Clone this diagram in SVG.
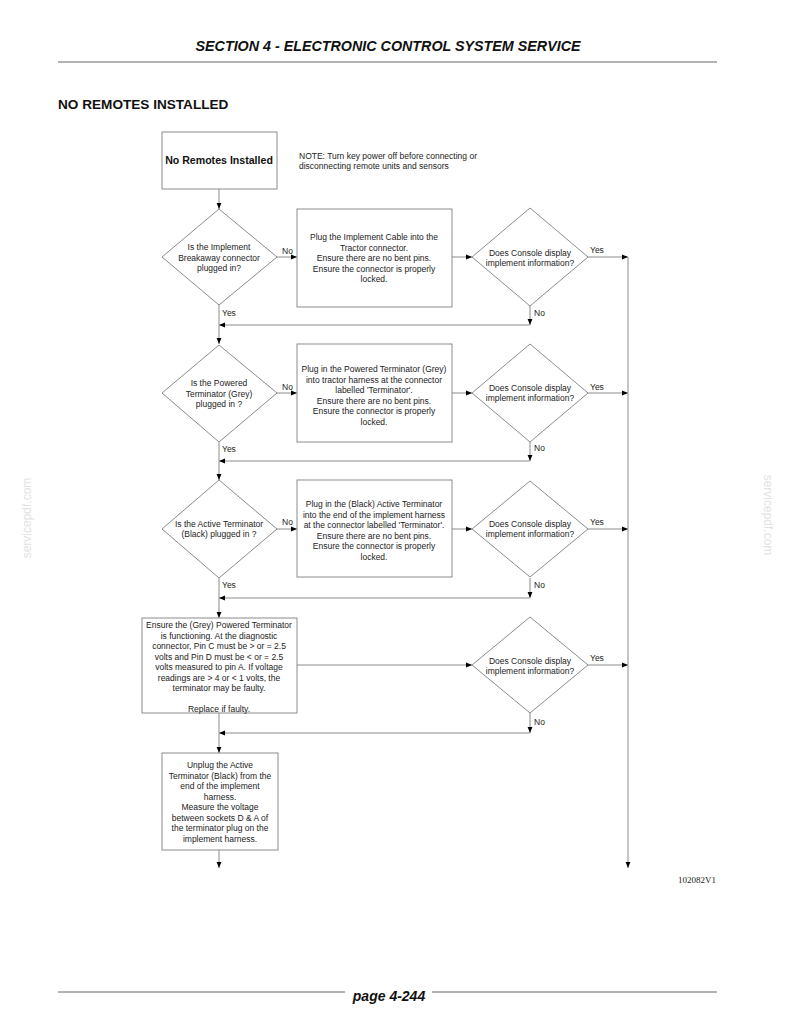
<svg xmlns="http://www.w3.org/2000/svg" width="794" height="1028" viewBox="0 0 794 1028">
<style>
  .t{font-family:"Liberation Sans",Arial,sans-serif;font-size:8.5px;fill:#222;text-anchor:middle}
  .l{font-family:"Liberation Sans",Arial,sans-serif;font-size:8.5px;fill:#222}
  .shape{fill:#fff;stroke:#8c8c8c;stroke-width:1}
  .c{fill:none;stroke:#8c8c8c;stroke-width:1;marker-end:url(#ah)}
  .wm{font-family:"Liberation Sans",Arial,sans-serif;font-size:12px;fill:#e2e2e2;text-anchor:middle}
</style>
<defs>
  <marker id="ah" viewBox="0 0 10 10" refX="10" refY="5" markerWidth="6" markerHeight="6" orient="auto" markerUnits="userSpaceOnUse">
    <path d="M0,1 L10,5 L0,9 z" fill="#000"/>
  </marker>
</defs>
<rect width="794" height="1028" fill="#fff"/>

<!-- header -->
<text x="388" y="51" font-family="Liberation Sans, Arial, sans-serif" font-size="14.3" font-weight="bold" font-style="italic" text-anchor="middle" fill="#111">SECTION 4 - ELECTRONIC CONTROL SYSTEM SERVICE</text>
<line x1="58" y1="62" x2="717" y2="62" stroke="#666" stroke-width="1"/>
<text x="58" y="109" font-family="Liberation Sans, Arial, sans-serif" font-size="13.6" font-weight="bold" fill="#111">NO REMOTES INSTALLED</text>

<!-- watermarks -->
<text class="wm" transform="translate(31,518) rotate(-90)">servicepdf.com</text>
<text class="wm" transform="translate(764,515) rotate(90)">servicepdf.com</text>

<!-- connectors -->
<g id="connectors">
  <line class="c" x1="219" y1="189" x2="219" y2="209"/>
  <line class="c" x1="277" y1="257" x2="297" y2="257"/>
  <line class="c" x1="452" y1="257" x2="472" y2="257"/>
  <line class="c" x1="588" y1="257" x2="628" y2="257"/>
  <line class="c" x1="530" y1="306" x2="530" y2="325"/>
  <line class="c" x1="530" y1="325" x2="219" y2="325"/>
  <line class="c" x1="219" y1="305" x2="219" y2="344"/>

  <line class="c" x1="277" y1="393" x2="297" y2="393"/>
  <line class="c" x1="452" y1="393" x2="472" y2="393"/>
  <line class="c" x1="588" y1="393" x2="628" y2="393"/>
  <line class="c" x1="530" y1="442" x2="530" y2="461"/>
  <line class="c" x1="530" y1="461" x2="219" y2="461"/>
  <line class="c" x1="219" y1="442" x2="219" y2="480"/>

  <line class="c" x1="277" y1="529" x2="297" y2="529"/>
  <line class="c" x1="452" y1="529" x2="472" y2="529"/>
  <line class="c" x1="588" y1="529" x2="628" y2="529"/>
  <line class="c" x1="530" y1="578" x2="530" y2="598"/>
  <line class="c" x1="530" y1="598" x2="219" y2="598"/>
  <line class="c" x1="219" y1="578" x2="219" y2="618"/>

  <line class="c" x1="297" y1="665" x2="472" y2="665"/>
  <line class="c" x1="588" y1="665" x2="628" y2="665"/>
  <line class="c" x1="530" y1="713" x2="530" y2="733"/>
  <line class="c" x1="530" y1="733" x2="219" y2="733"/>
  <line class="c" x1="219" y1="713" x2="219" y2="753"/>

  <line class="c" x1="219" y1="850" x2="219" y2="868"/>
  <line class="c" x1="628" y1="257" x2="628" y2="868"/>
</g>

<!-- connector labels -->
<g id="labels">
  <text class="l" x="282" y="254">No</text>
  <text class="l" x="222" y="316">Yes</text>
  <text class="l" x="590" y="253">Yes</text>
  <text class="l" x="534" y="316">No</text>

  <text class="l" x="282" y="390">No</text>
  <text class="l" x="222" y="452">Yes</text>
  <text class="l" x="590" y="390">Yes</text>
  <text class="l" x="534" y="451">No</text>

  <text class="l" x="282" y="525">No</text>
  <text class="l" x="222" y="588">Yes</text>
  <text class="l" x="590" y="525">Yes</text>
  <text class="l" x="534" y="588">No</text>

  <text class="l" x="590" y="661">Yes</text>
  <text class="l" x="534" y="725">No</text>
</g>

<!-- nodes -->
<g id="start">
  <rect class="shape" x="162" y="132" width="115" height="57"/>
  <text x="219" y="164" font-family="Liberation Sans, Arial, sans-serif" font-size="10.6" font-weight="bold" text-anchor="middle" fill="#111">No Remotes Installed</text>
</g>
<g id="note">
  <text class="l" x="299" y="159">NOTE: Turn key power off before connecting or</text>
  <text class="l" x="299" y="169">disconnecting remote units and sensors</text>
</g>

<g id="q1">
  <polygon class="shape" points="219,209 277,257 219,305 162,257"/>
  <text class="t" x="219" y="250">Is the Implement</text>
  <text class="t" x="219" y="260.5">Breakaway connector</text>
  <text class="t" x="219" y="271">plugged in?</text>
</g>
<g id="a1">
  <rect class="shape" x="297" y="209" width="155" height="98"/>
  <text class="t" x="374" y="240">Plug the Implement Cable into the</text>
  <text class="t" x="374" y="250.5">Tractor connector.</text>
  <text class="t" x="374" y="261">Ensure there are no bent pins.</text>
  <text class="t" x="374" y="271.5">Ensure the connector is properly</text>
  <text class="t" x="374" y="282">locked.</text>
</g>
<g id="c1">
  <polygon class="shape" points="530,208 588,257 530,306 472,257"/>
  <text class="t" x="530" y="256">Does Console display</text>
  <text class="t" x="530" y="266">implement information?</text>
</g>

<g id="q2">
  <polygon class="shape" points="219,345 277,393 219,442 162,393"/>
  <text class="t" x="219" y="386">Is the Powered</text>
  <text class="t" x="219" y="396.5">Terminator (Grey)</text>
  <text class="t" x="219" y="407">plugged in ?</text>
</g>
<g id="a2">
  <rect class="shape" x="297" y="344" width="155" height="98"/>
  <text class="t" x="374" y="372">Plug in the Powered Terminator (Grey)</text>
  <text class="t" x="374" y="382.5">into tractor harness at the connector</text>
  <text class="t" x="374" y="393">labelled 'Terminator'.</text>
  <text class="t" x="374" y="403.5">Ensure there are no bent pins.</text>
  <text class="t" x="374" y="414">Ensure the connector is properly</text>
  <text class="t" x="374" y="424.5">locked.</text>
</g>
<g id="c2">
  <polygon class="shape" points="530,344 588,393 530,442 472,393"/>
  <text class="t" x="530" y="391">Does Console display</text>
  <text class="t" x="530" y="401">implement information?</text>
</g>

<g id="q3">
  <polygon class="shape" points="219,480 277,529 219,578 162,529"/>
  <text class="t" x="219" y="527">Is the Active Terminator</text>
  <text class="t" x="219" y="537">(Black) plugged in ?</text>
</g>
<g id="a3">
  <rect class="shape" x="297" y="480" width="155" height="97"/>
  <text class="t" x="374" y="507">Plug in the (Black) Active Terminator</text>
  <text class="t" x="374" y="517.5">into the end of the implement harness</text>
  <text class="t" x="374" y="528">at the connector labelled 'Terminator'.</text>
  <text class="t" x="374" y="538.5">Ensure there are no bent pins.</text>
  <text class="t" x="374" y="549">Ensure the connector is properly</text>
  <text class="t" x="374" y="559.5">locked.</text>
</g>
<g id="c3">
  <polygon class="shape" points="530,481 588,529 530,577 472,529"/>
  <text class="t" x="530" y="527">Does Console display</text>
  <text class="t" x="530" y="537">implement information?</text>
</g>

<g id="a4">
  <rect class="shape" x="142" y="618" width="155" height="95"/>
  <text class="t" x="219" y="628">Ensure the (Grey) Powered Terminator</text>
  <text class="t" x="219" y="638.5">is functioning.  At the diagnostic</text>
  <text class="t" x="219" y="649">connector, Pin C must be &gt; or = 2.5</text>
  <text class="t" x="219" y="659.5">volts and Pin D must be &lt; or = 2.5</text>
  <text class="t" x="219" y="670">volts measured to pin A.  If voltage</text>
  <text class="t" x="219" y="680.5">readings are &gt; 4 or &lt; 1 volts, the</text>
  <text class="t" x="219" y="691">terminator may be faulty.</text>
  <text class="t" x="219" y="711.5">Replace if faulty.</text>
</g>
<g id="c4">
  <polygon class="shape" points="530,617 588,665 530,713 472,665"/>
  <text class="t" x="530" y="664">Does Console display</text>
  <text class="t" x="530" y="674">implement information?</text>
</g>

<g id="a5">
  <rect class="shape" x="162" y="753" width="116" height="97"/>
  <text class="t" x="220" y="768">Unplug the Active</text>
  <text class="t" x="220" y="778.5">Terminator (Black) from the</text>
  <text class="t" x="220" y="789">end of the implement</text>
  <text class="t" x="220" y="799.5">harness.</text>
  <text class="t" x="220" y="810">Measure the voltage</text>
  <text class="t" x="220" y="820.5">between sockets D &amp; A of</text>
  <text class="t" x="220" y="831">the terminator plug on the</text>
  <text class="t" x="220" y="841.5">implement harness.</text>
</g>

<text x="697" y="883" font-family="Liberation Serif, Times New Roman, serif" font-size="9" text-anchor="middle" fill="#222">102082V1</text>

<!-- footer -->
<line x1="58" y1="992" x2="345" y2="992" stroke="#666" stroke-width="1"/>
<line x1="432" y1="992" x2="717" y2="992" stroke="#666" stroke-width="1"/>
<text x="389" y="1001" font-family="Liberation Sans, Arial, sans-serif" font-size="14" font-weight="bold" font-style="italic" text-anchor="middle" fill="#111">page 4-244</text>
</svg>
